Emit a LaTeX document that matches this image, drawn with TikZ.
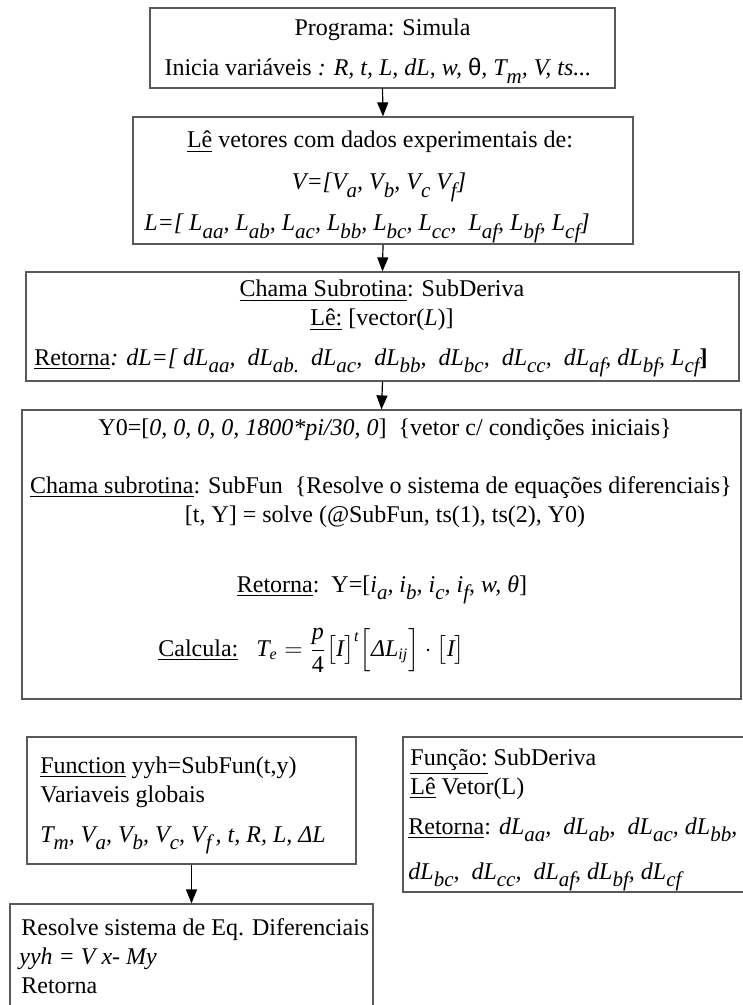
\documentclass[tikz,border=0pt]{standalone}
\usepackage{fontspec}
\usepackage{amsmath}
\setmainfont{Liberation Serif}
\newfontfamily\sansgreek{Liberation Sans}
\usetikzlibrary{arrows.meta}
\newcommand\sbs[1]{\raisebox{-0.3em}{\fontsize{10.5}{10.5}\selectfont\itshape #1}}
\tikzset{
  box/.style={draw=black!65, line width=0.6pt, rectangle, inner sep=0pt},
  arr/.style={draw=black, line width=0.6pt, -{Triangle[length=7pt,width=5.5pt]}},
  txt/.style={inner sep=0pt, anchor=base, font=\fontsize{12}{14}\selectfont},
  ltxt/.style={inner sep=0pt, anchor=base west, font=\fontsize{12}{14}\selectfont}
}
\begin{document}
\begin{tikzpicture}[x=0.5pt,y=-0.5pt]
\useasboundingbox (0,0) rectangle (743,1005);
\clip (0,0) rectangle (743,1005);
% boxes
\node[box, minimum width=232.5pt, minimum height=40pt] (b1) at (382.5,48) {};
\node[box, minimum width=250pt, minimum height=63.5pt] (b2) at (383,180.5) {};
\node[box, minimum width=356.5pt, minimum height=54.5pt] (b3) at (382.5,326.5) {};
\node[box, minimum width=359.5pt, minimum height=144.5pt] (b4) at (381.5,554.5) {};
\node[box, minimum width=164.5pt, minimum height=63.5pt] (b5) at (191.5,800.5) {};
\node[box, minimum width=181.5pt, minimum height=58pt] (b6) at (191.5,962) {};
\node[box, minimum width=183.5pt, minimum height=77.5pt] (b7) at (586.5,814.5) {};
% arrows
\draw[arr] (b1.south) -- (b2.north);
\draw[arr] (b2.south) -- (b3.north);
\draw[arr] (b3.south) -- (b4.north);
\draw[arr] (b5.south) -- (b6.north);
% box 1
\node[txt] (t11) at (382.5,36) {Programa: Simula};
\node[txt] (t12) at (378,76) {Inicia variáveis \textit{: R, t, L, dL, w, }{\sansgreek θ}\textit{, T\sbs{m}, V, ts...}};
% box 2
\node[txt] (t21) at (380,148) {\underline{Lê} vetores com dados experimentais de:};
\node[txt] (t22) at (379,190) {\textit{V=[V\sbs{a}, V\sbs{b}, V\sbs{c} V\sbs{f}]}};
\node[txt] (t23) at (367,231) {\textit{L=[ L\sbs{aa}, L\sbs{ab}, L\sbs{ac}, L\sbs{bb}, L\sbs{bc}, L\sbs{cc},\ \ L\sbs{af}, L\sbs{bf}, L\sbs{cf}]}};
% box 3
\node[txt] (t31) at (382,297) {\underline{Chama Subrotina}: SubDeriva};
\node[txt] (t32) at (382,326) {\underline{Lê:} [vector(\textit{L})]};
\node[txt] (t33) at (371,365) {\underline{Retorna}\textit{: dL=[ dL\sbs{aa},\ \ dL\sbs{ab.}\ \ dL\sbs{ac},\ \ dL\sbs{bb},\ \ dL\sbs{bc},\ \ dL\sbs{cc},\ \ dL\sbs{af}, dL\sbs{bf}, L\sbs{cf}}\textbf{]}};
% box 4
\node[txt] (t41) at (385,435) {Y0=[\textit{0, 0, 0, 0, 1800*pi/30, 0}]\ \ \{vetor c/ condições iniciais\}};
\node[txt] (t42) at (381,493) {\underline{Chama subrotina}: SubFun\ \ \{Resolve o sistema de equações diferenciais\}};
\node[txt] (t43) at (385,522) {[t, Y] = solve (@SubFun, ts(1), ts(2), Y0)};
\node[txt] (t44) at (382,592) {\underline{Retorna}:\ \ Y=[\textit{i\sbs{a}, i\sbs{b}, i\sbs{c}, i\sbs{f}, w, θ}]};
\node[ltxt] (t45) at (158,656) {\underline{Calcula:}\ \ \ $\text{\itshape T}_{\text{\itshape e}} = \dfrac{\text{\itshape p}}{\text{4}}\bigl[\text{\itshape I}\bigr]^{\text{\itshape t}}\Bigl[\text{\itshape ΔL}_{\text{\itshape ij}}\Bigr]\cdot\bigl[\text{\itshape I}\bigr]$};
% box 5
\node[ltxt] (t51) at (40,773) {\underline{Function} yyh=SubFun(t,y)};
\node[ltxt] (t52) at (40,802) {Variaveis globais};
\node[ltxt] (t53) at (40,842) {\textit{T\sbs{m}, V\sbs{a}, V\sbs{b}, V\sbs{c}, V\sbs{f}\,, t, R, L, ΔL}};
% box 7
\node[ltxt] (t71) at (410,765) {\underline{Função:} SubDeriva};
\node[ltxt] (t72) at (410,794) {\underline{Lê} Vetor(L)};
\node[ltxt] (t73) at (408,834) {\underline{Retorna}: \textit{dL\sbs{aa},\ \ dL\sbs{ab},\ \ dL\sbs{ac}, dL\sbs{bb},}};
\node[ltxt] (t74) at (408,879) {\textit{dL\sbs{bc},\ \ dL\sbs{cc},\ \ dL\sbs{af}, dL\sbs{bf}, dL\sbs{cf}}};
% box 6
\node[ltxt] (t61) at (21,935) {Resolve sistema de Eq. Diferenciais};
\node[ltxt] (t62) at (19,964) {\textit{yyh = V x- My}};
\node[ltxt] (t63) at (21,993) {Retorna};
\end{tikzpicture}
\end{document}
